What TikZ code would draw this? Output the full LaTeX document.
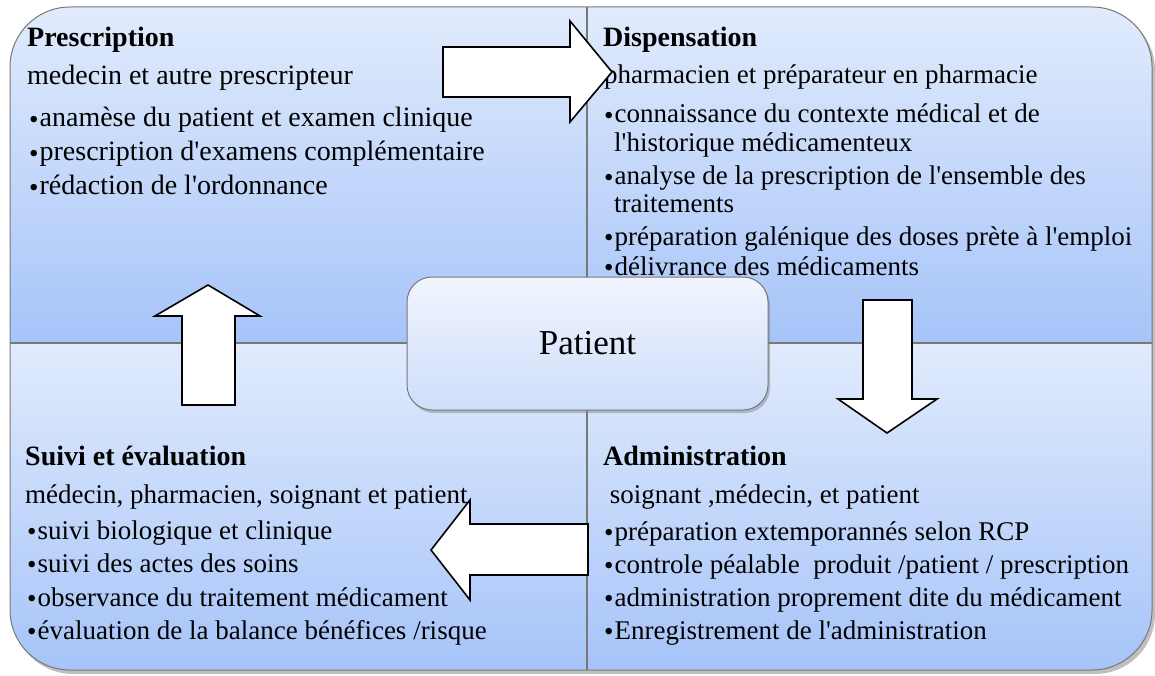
\documentclass[tikz,border=0pt]{standalone}
\usepackage{fontspec}
\setmainfont{Liberation Serif}
\usetikzlibrary{shadows}
\definecolor{qtop}{RGB}{225,235,252}
\definecolor{qbot}{RGB}{166,196,249}
\definecolor{ptop}{RGB}{241,245,254}
\definecolor{pbot}{RGB}{206,221,250}
\definecolor{edgegray}{RGB}{120,120,120}
\tikzset{
  body/.style={anchor=base west, inner sep=0pt, font=\fontsize{27}{27}\selectfont},
  bodyl/.style={body, font=\fontsize{28}{28}\selectfont},
  head/.style={anchor=base west, inner sep=0pt, font=\fontsize{28}{28}\selectfont\bfseries},
  quad/.style={top color=qtop, bottom color=qbot},
  blockarrow/.style={draw=black, fill=white, line width=1.6pt, line join=miter},
}
\newcommand{\bl}{{\fontsize{27}{27}\selectfont\raisebox{-1.8pt}{\textbullet}}\hspace{1pt}}
\newcommand{\ap}{\textquotesingle}

\begin{document}
\begin{tikzpicture}[x=1pt,y=-1pt]
\useasboundingbox (0,0) rectangle (1155,676);

% soft shadow under the frame
\fill[black!50, opacity=0.5, rounded corners=60pt] (13,10) rectangle (1155,674);

% four quadrants with their own gradients
\begin{scope}
  \clip[rounded corners=60pt] (10,7) rectangle (1152,670);
  \shade[quad] (10,7) rectangle (587,342);
  \shade[quad] (587,7) rectangle (1152,342);
  \shade[quad] (10,343) rectangle (587,670);
  \shade[quad] (587,343) rectangle (1152,670);
  \draw[edgegray, line width=2pt] (10,342.5) -- (1152,342.5);
  \draw[edgegray, line width=1.3pt] (587,7) -- (587,670);
\end{scope}
\draw[edgegray, line width=1pt, rounded corners=60pt] (10,7) rectangle (1152,670);

% Prescription
\node[head] (t1) at (27,47) {Prescription};
\node[bodyl] (s1) at (27,85) {medecin et autre prescripteur};
\node[bodyl] (a1) at (29,127) {\bl anamèse du patient et examen clinique};
\node[bodyl] (a2) at (29,161) {\bl prescription d\ap examens complémentaire};
\node[bodyl] (a3) at (29,195) {\bl rédaction de l\ap ordonnance};

% Dispensation
\node[head] (t2) at (603,47) {Dispensation};
\node[body] (s2) at (604,84) {pharmacien et préparateur en pharmacie};
\node[body] (b1) at (604,123) {\bl connaissance du contexte médical et de};
\node[body] (b1b) at (614,152) {l\ap historique médicamenteux};
\node[body] (b2) at (604,185) {\bl analyse de la prescription de l\ap ensemble des};
\node[body] (b2b) at (614,213) {traitements};
\node[body] (b3) at (604,245) {\bl préparation galénique des doses prète à l\ap emploi};
\node[body] (b4) at (604,275) {\bl délivrance des médicaments};

% Suivi et evaluation
\node[head] (t3) at (25,465) {Suivi et évaluation};
\node[body] (s3) at (25,503) {médecin, pharmacien, soignant et patient};
\node[body] (c1) at (27,539) {\bl suivi biologique et clinique};
\node[body] (c2) at (27,572) {\bl suivi des actes des soins};
\node[body] (c3) at (27,606) {\bl observance du traitement médicament};
\node[body] (c4) at (27,639) {\bl évaluation de la balance bénéfices /risque};

% Administration
\node[head] (t4) at (603,465) {Administration};
\node[body] (s4) at (603,503) {\ soignant ,médecin, et patient};
\node[body] (d1) at (604,540) {\bl préparation extemporannés selon RCP};
\node[body] (d2) at (604,573) {\bl controle péalable\ \ produit /patient / prescription};
\node[body] (d3) at (604,606) {\bl administration proprement dite du médicament};
\node[body] (d4) at (604,639) {\bl Enregistrement de l\ap administration};

% central box
\node[draw=edgegray, line width=1pt, rounded corners=25pt, top color=ptop, bottom color=pbot,
      minimum width=361pt, minimum height=133pt, inner sep=0pt,
      drop shadow={shadow xshift=2pt, shadow yshift=-3pt, opacity=0.45},
      font=\fontsize{35}{35}\selectfont] (patient) at (587.5,343.5) {Patient};

% block arrows of the cycle
\draw[blockarrow] (443,47) -- (570,47) -- (570,21) -- (612,72) -- (570,122) -- (570,97) -- (443,97) -- cycle;
\draw[blockarrow] (863,300) -- (912,300) -- (912,399) -- (937,399) -- (887,433) -- (838,399) -- (863,399) -- cycle;
\draw[blockarrow] (588,524) -- (470,524) -- (470,500) -- (431,550) -- (470,600) -- (470,575) -- (588,575) -- cycle;
\draw[blockarrow] (182,405) -- (182,316) -- (155,316) -- (208,285) -- (260,316) -- (235,316) -- (235,405) -- cycle;
\end{tikzpicture}
\end{document}
